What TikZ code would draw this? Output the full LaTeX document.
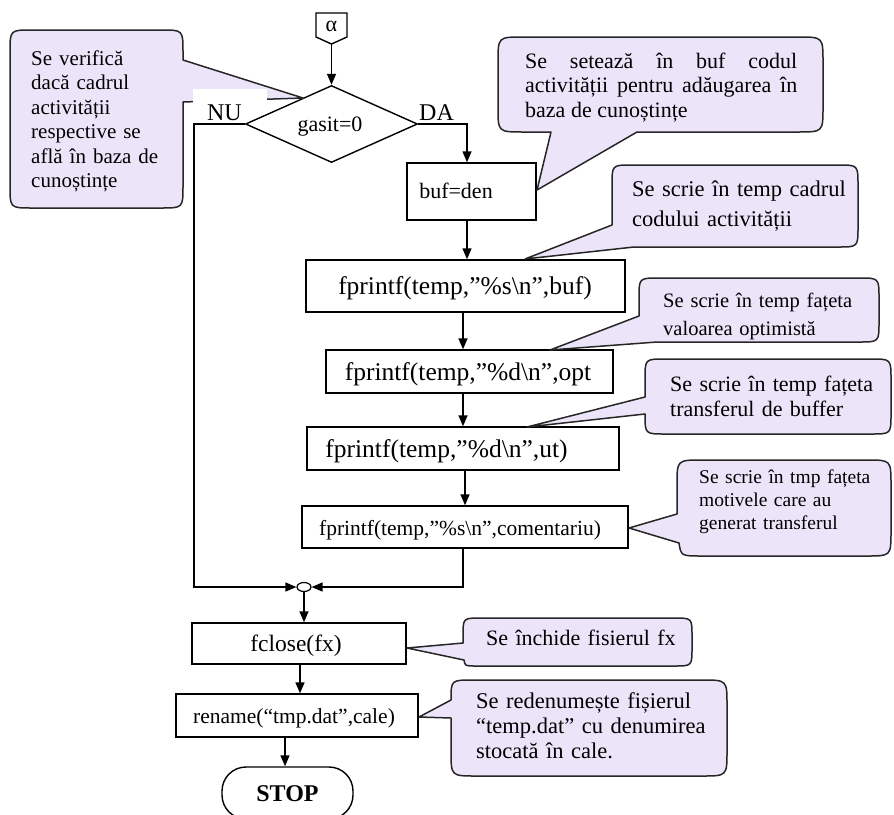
\documentclass[tikz,border=0pt]{standalone}
\usepackage{fontspec}
\setmainfont{Liberation Serif}
\usetikzlibrary{arrows.meta,shapes.geometric}

\definecolor{notefill}{RGB}{236,229,250}
\newcommand\setfs[2]{\fontsize{#1}{#2}\selectfont}

\begin{document}
\begin{tikzpicture}[x=1pt,y=-1pt,
  box/.style={draw, line width=1.4pt, inner sep=0pt, fill=white},
  lbl/.style={inner sep=0pt, anchor=base},
  flow/.style={-{Triangle[length=11pt,width=9pt]}, line width=1.4pt},
  callout/.style={draw=black!85, fill=notefill, line width=1.5pt, line join=round},
  ntext/.style={inner sep=0pt, anchor=base west, text width=250pt, align=left}
]
\useasboundingbox (0,0) rectangle (894,814);

% ---------- entry connector ----------
\draw[box] (316,13) -- (347,13) -- (347,37) -- (331.5,44) -- (316,37) -- cycle;
\node[lbl, font=\setfs{22}{24}] (alpha) at (331.5,31) {α};
\coordinate (alphatip) at (331.5,44);

% ---------- decision ----------
\node[box, diamond, minimum width=172pt, minimum height=77pt, aspect=2.2] (dec) at (331.5,124) {};
\node[lbl, font=\setfs{22}{24}] (dectext) at (330,131) {gasit=0};

% ---------- process boxes ----------
\node[box, minimum width=129pt, minimum height=57pt] (buf) at (471.5,191.5) {};
\node[box, minimum width=319pt, minimum height=52pt] (fp1) at (465.5,286) {};
\node[box, minimum width=287pt, minimum height=43pt] (fp2) at (469.5,371.5) {};
\node[box, minimum width=312pt, minimum height=43pt] (fp3) at (463,448.5) {};
\node[box, minimum width=326pt, minimum height=42pt] (fp4) at (465,527) {};
\node[box, minimum width=214pt, minimum height=41pt] (fcl) at (299,643.5) {};
\node[box, minimum width=242pt, minimum height=43pt] (ren) at (297,715.5) {};
\node[box, rounded corners=24pt, minimum width=131pt, minimum height=52pt] (stop) at (287.5,793) {};

\node[lbl, font=\setfs{22}{24}] (buftext) at (456,198) {buf=den};
\node[lbl, font=\setfs{25.5}{28}] (fp1text) at (465,294) {fprintf(temp,”\%s\textbackslash n”,buf)};
\node[lbl, font=\setfs{25.5}{28}] (fp2text) at (468,380) {fprintf(temp,”\%d\textbackslash n”,opt};
\node[lbl, font=\setfs{25.5}{28}] (fp3text) at (446.5,457) {fprintf(temp,”\%d\textbackslash n”,ut)};
\node[lbl, font=\setfs{21.5}{24}] (fp4text) at (460,535) {fprintf(temp,”\%s\textbackslash n”,comentariu)};
\node[lbl, font=\setfs{23.5}{26}] (fcltext) at (296,651) {fclose(fx)};
\node[lbl, font=\setfs{21.5}{24}] (rentext) at (294,723) {rename(“tmp.dat”,cale)};
\node[lbl, font=\setfs{24}{26}\bfseries] (stoptext) at (287.5,801) {STOP};

% ---------- junction ----------
\node[draw, ellipse, fill=white, line width=1.2pt, minimum width=14pt, minimum height=9pt, inner sep=0pt] (jn) at (304,587) {};
\coordinate (nucorner) at (194,124);

% ---------- connectors ----------
\draw[flow] (alphatip) -- (dec.north);
\draw[flow] (dec.west) -- (nucorner) |- (jn.west);
\draw[flow] (dec.east) -| ([xshift=-4.5pt]buf.north);
\draw[flow] ([xshift=-4.5pt]buf.south) -- ([xshift=1.5pt]fp1.north);
\draw[flow] ([xshift=-2.5pt]fp1.south) -- ([xshift=-6.5pt]fp2.north);
\draw[flow] ([xshift=-6.5pt]fp2.south) -- (fp3.north);
\draw[flow] ([xshift=2pt]fp3.south) -- (fp4.north);
\draw[flow] ([xshift=-2pt]fp4.south) |- (jn.east);
\draw[flow] (jn.south) -- (jn.south |- fcl.north);
\draw[flow] ([xshift=1pt]fcl.south) -- ([xshift=1pt]fcl.south |- ren.north);
\draw[flow] ([xshift=-12pt]ren.south) -- ([xshift=-12pt]ren.south |- stop.north);

% ---------- callouts ----------
\draw[callout] (32,30) -- (161,30) .. controls (183,30) .. (183,52) -- (183,60) -- (303,98) -- (183,102)
  -- (183,186) .. controls (183,208) .. (161,208) -- (32,208) .. controls (10,208) .. (10,186)
  -- (10,52) .. controls (10,30) .. (32,30) -- cycle;
\fill[white] (193,89) rectangle (267,103);
\node[ntext, font=\setfs{21}{24.5}] (n0) at (31,65)
  {Se verifică\\dacă cadrul\\activității\\respective se\\află în baza de\\cunoștințe};

\draw[callout] (523,37) -- (798,37) .. controls (823,37) .. (823,62) -- (823,107) .. controls (823,132) .. (798,132)
  -- (637,132) -- (537,190) -- (551,132) -- (523,132) .. controls (498,132) .. (498,107)
  -- (498,62) .. controls (498,37) .. (523,37) -- cycle;
\node[inner sep=0pt, anchor=base west, text width=272pt, align=justify, font=\setfs{22}{24.5}] (n1) at (525,68)
  {Se setează în buf codul\linebreak activității pentru adăugarea în\linebreak baza de cunoștințe};

\draw[callout] (632,165) -- (838,165) .. controls (858,165) .. (858,185) -- (858,227) .. controls (858,247) .. (838,247)
  -- (634,247) -- (525,259) -- (612,225) -- (612,185) .. controls (612,165) .. (632,165) -- cycle;
\node[ntext, font=\setfs{22.5}{30}] (n2) at (632,196) {Se scrie în temp cadrul\\codului activității};

\draw[callout] (659,278) -- (859,278) .. controls (879,278) .. (879,298) -- (879,322) .. controls (879,342) .. (859,342)
  -- (657,342) -- (550,350) -- (639,316) -- (639,298) .. controls (639,278) .. (659,278) -- cycle;
\node[ntext, font=\setfs{20.5}{28}] (n3) at (663,307) {Se scrie în temp fațeta\\valoarea optimistă};

\draw[callout] (665,359) -- (871,359) .. controls (891,359) .. (891,379) -- (891,414) .. controls (891,434) .. (871,434)
  -- (665,434) .. controls (645,434) .. (645,414) -- (527,427) -- (645,397)
  -- (645,379) .. controls (645,359) .. (665,359) -- cycle;
\node[ntext, font=\setfs{22}{25}] (n4) at (670,391) {Se scrie în temp fațeta\\transferul de buffer};

\draw[callout] (702,460) -- (867,460) .. controls (891,460) .. (891,485) -- (891,531) .. controls (891,556) .. (867,556)
  -- (702,556) .. controls (681,556) .. (679,543) -- (629,528) -- (677,514)
  -- (677,485) .. controls (677,460) .. (702,460) -- cycle;
\node[ntext, font=\setfs{19.5}{23}] (n5) at (699,483) {Se scrie în tmp fațeta\\motivele care au\\generat transferul};

\draw[callout] (481,618) -- (674,618) .. controls (692,618) .. (692,636) -- (692,648) .. controls (692,666) .. (674,666)
  -- (476,666) .. controls (465,666) .. (464,660) -- (407,648) -- (463,643)
  -- (463,636) .. controls (463,618) .. (481,618) -- cycle;
\node[ntext, font=\setfs{22}{25}] (n6) at (486,645) {Se închide fisierul fx};

\draw[callout] (473,680) -- (702,680) .. controls (727,680) .. (727,705) -- (727,751) .. controls (727,776) .. (702,776)
  -- (476,776) .. controls (451,776) .. (451,751) -- (451,718) -- (419,717) -- (451,700)
  .. controls (451,680) .. (473,680) -- cycle;
\node[ntext, font=\setfs{22.5}{25}] (n7) at (476,708) {Se redenumește fișierul\\“temp.dat” cu denumirea\\stocată în cale.};

% ---------- branch labels ----------
\node[lbl, font=\setfs{24}{26}] (nu) at (224.5,120) {NU};
\node[lbl, font=\setfs{24}{26}] (da) at (436.5,120) {DA};
\end{tikzpicture}
\end{document}
